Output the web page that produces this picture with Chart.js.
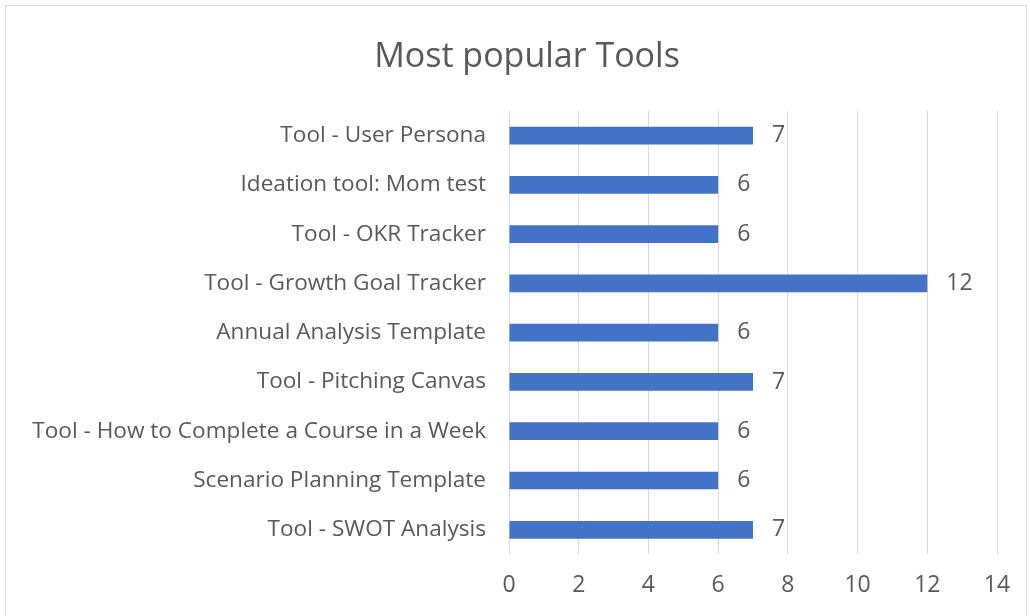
<!DOCTYPE html>
<html>
<head>
<meta charset="utf-8">
<script src="https://cdn.jsdelivr.net/npm/chart.js@4.4.0/dist/chart.umd.min.js"></script>
<style>
  html, body { margin: 0; padding: 0; background: #fff; }
  #wrap { position: relative; width: 1030px; height: 616px; overflow: hidden; }
  #frame { position: absolute; left: 5px; top: 5px; width: 1022px; height: 640px; border: 1px solid #d9d9d9; box-sizing: border-box; }
  canvas { position: absolute; left: 0; top: 0; }
</style>
</head>
<body>
<div id="wrap">
  <div id="frame"></div>
  <canvas id="chart" width="1030" height="616"></canvas>
</div>
<script>
const chartTitle = 'Most popular Tools';
const categories = [
  "Tool - User Persona",
  "Ideation tool: Mom test",
  "Tool - OKR Tracker",
  "Tool - Growth Goal Tracker",
  "Annual Analysis Template",
  "Tool - Pitching Canvas",
  "Tool - How to Complete a Course in a Week",
  "Scenario Planning Template",
  "Tool - SWOT Analysis"
];
const counts = [7, 6, 6, 12, 6, 7, 6, 6, 7];
const xTicks = [0, 2, 4, 6, 8, 10, 12, 14];

const textColor = '#595959';
const fontFamily = '"Open Sans", "Liberation Sans", sans-serif';

// value labels at the end of each bar
const barLabels = {
  id: 'barLabels',
  afterDatasetsDraw(chart) {
    const ctx = chart.ctx;
    const meta = chart.getDatasetMeta(0);
    ctx.save();
    ctx.font = '23px ' + fontFamily;
    ctx.fillStyle = textColor;
    ctx.textAlign = 'left';
    ctx.textBaseline = 'middle';
    meta.data.forEach((bar, i) => {
      ctx.fillText(String(counts[i]), bar.x + 19, bar.y);
    });
    ctx.restore();
  }
};

// title centred over the whole frame (not just the plot), like the original
const frameTitle = {
  id: 'frameTitle',
  afterDraw(chart) {
    const ctx = chart.ctx;
    ctx.save();
    ctx.font = '34px ' + fontFamily;
    ctx.fillStyle = textColor;
    ctx.textAlign = 'center';
    ctx.textBaseline = 'middle';
    ctx.fillText(chartTitle, 527, 57);
    ctx.restore();
  }
};

const ctx = document.getElementById('chart').getContext('2d');
new Chart(ctx, {
  type: 'bar',
  data: {
    labels: categories,
    datasets: [{
      data: counts,
      backgroundColor: '#4472C4',
      borderWidth: 0,
      barPercentage: 0.36,
      categoryPercentage: 1
    }]
  },
  options: {
    indexAxis: 'y',
    responsive: false,
    animation: false,
    layout: { padding: { left: 0, right: 33, top: 111, bottom: 0 } },
    plugins: {
      legend: { display: false },
      tooltip: { enabled: false },
      title: { display: false }
    },
    scales: {
      x: {
        min: 0,
        max: 14,
        afterBuildTicks(scale) { scale.ticks = xTicks.map(v => ({ value: v })); },
        grid: { color: '#d9d9d9', drawTicks: false },
        border: { display: false },
        ticks: {
          color: textColor,
          padding: 17,
          font: { family: fontFamily, size: 23 }
        }
      },
      y: {
        afterFit(scale) { scale.width = 509; },
        grid: { display: false },
        border: { display: false },
        ticks: {
          color: textColor,
          padding: 15,
          font: { family: fontFamily, size: 22.6 }
        }
      }
    }
  },
  plugins: [barLabels, frameTitle]
});
</script>
</body>
</html>
